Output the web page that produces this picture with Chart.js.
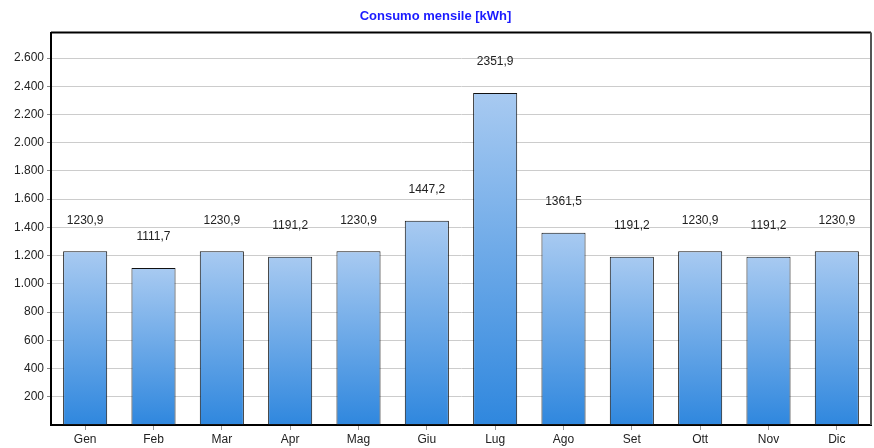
<!DOCTYPE html>
<html>
<head>
<meta charset="utf-8">
<script src="https://cdn.jsdelivr.net/npm/chart.js@4.4.1/dist/chart.umd.min.js"></script>
<style>
  html, body { margin: 0; padding: 0; background: #fff; }
  #wrap { width: 874px; height: 448px; position: relative; }
</style>
</head>
<body>
<div id="wrap"><canvas id="chart"></canvas></div>
<script>
// Dati del grafico
const mesi = ['Gen', 'Feb', 'Mar', 'Apr', 'Mag', 'Giu', 'Lug', 'Ago', 'Set', 'Ott', 'Nov', 'Dic'];
const consumi = [1230.9, 1111.7, 1230.9, 1191.2, 1230.9, 1447.2, 2351.9, 1361.5, 1191.2, 1230.9, 1191.2, 1230.9];
const yTicks = [200, 400, 600, 800, 1000, 1200, 1400, 1600, 1800, 2000, 2200, 2400, 2600];
const yMax = 2780;

function formatMigliaia(v) {
  return String(v).replace(/\B(?=(\d{3})+(?!\d))/g, '.');
}

// Gradiente per ogni barra
function barGradient(context) {
  const chart = context.chart;
  if (!chart.chartArea) return '#6aa8ea';
  const y = chart.scales.y;
  const top = y.getPixelForValue(consumi[context.dataIndex]);
  const base = y.getPixelForValue(0);
  const g = chart.ctx.createLinearGradient(0, top, 0, base);
  g.addColorStop(0, '#a8caf1');
  g.addColorStop(1, '#2f87de');
  return g;
}

// Etichette sopra le barre + cornice
const extras = {
  id: 'extras',
  afterDatasetsDraw(chart) {
    const ctx = chart.ctx;
    const meta = chart.getDatasetMeta(0);
    ctx.save();
    ctx.font = '12px "Liberation Sans", Arial, sans-serif';
    ctx.fillStyle = '#222';
    ctx.textAlign = 'center';
    ctx.textBaseline = 'middle';
    meta.data.forEach((bar, i) => {
      ctx.fillText(consumi[i].toFixed(1).replace('.', ','), bar.x, bar.y - 31);
    });
    const a = chart.chartArea;
    ctx.lineWidth = 2;
    ctx.strokeStyle = '#000';
    ctx.beginPath();
    ctx.moveTo(a.left, a.top);
    ctx.lineTo(a.right, a.top);
    ctx.stroke();
    ctx.strokeStyle = '#555';
    ctx.beginPath();
    ctx.moveTo(a.right, a.top);
    ctx.lineTo(a.right, a.bottom);
    ctx.stroke();
    ctx.restore();
  }
};

new Chart(document.getElementById('chart'), {
  type: 'bar',
  data: {
    labels: mesi,
    datasets: [{
      data: consumi,
      backgroundColor: barGradient,
      borderColor: '#111',
      borderWidth: 1,
      borderSkipped: false,
      barPercentage: 0.645,
      categoryPercentage: 1
    }]
  },
  options: {
    responsive: true,
    maintainAspectRatio: false,
    animation: false,
    layout: { padding: { left: 0, right: 3, top: 0, bottom: 0 } },
    plugins: {
      legend: { display: false },
      tooltip: { enabled: false },
      title: {
        display: true,
        text: 'Consumo mensile [kWh]',
        color: '#1a1aff',
        font: { family: '"Liberation Sans", Arial, sans-serif', size: 13, weight: 'bold' },
        padding: { top: 9, bottom: 8 }
      }
    },
    scales: {
      x: {
        afterFit: s => { s.height = 23; },
        grid: {
          offset: false,
          drawOnChartArea: false,
          tickLength: 5,
          tickColor: '#999'
        },
        border: { color: '#000', width: 2 },
        ticks: {
          color: '#222',
          padding: 2,
          font: { family: '"Liberation Sans", Arial, sans-serif', size: 12 }
        }
      },
      y: {
        min: 0,
        max: yMax,
        afterFit: s => { s.width = 51; },
        afterBuildTicks: s => { s.ticks = yTicks.map(v => ({ value: v })); },
        grid: {
          color: '#cccccc',
          tickLength: 4,
          tickColor: '#888'
        },
        border: { color: '#000', width: 2 },
        ticks: {
          color: '#222',
          padding: 3,
          font: { family: '"Liberation Sans", Arial, sans-serif', size: 12 },
          callback: v => formatMigliaia(v)
        }
      }
    }
  },
  plugins: [extras]
});
</script>
</body>
</html>
